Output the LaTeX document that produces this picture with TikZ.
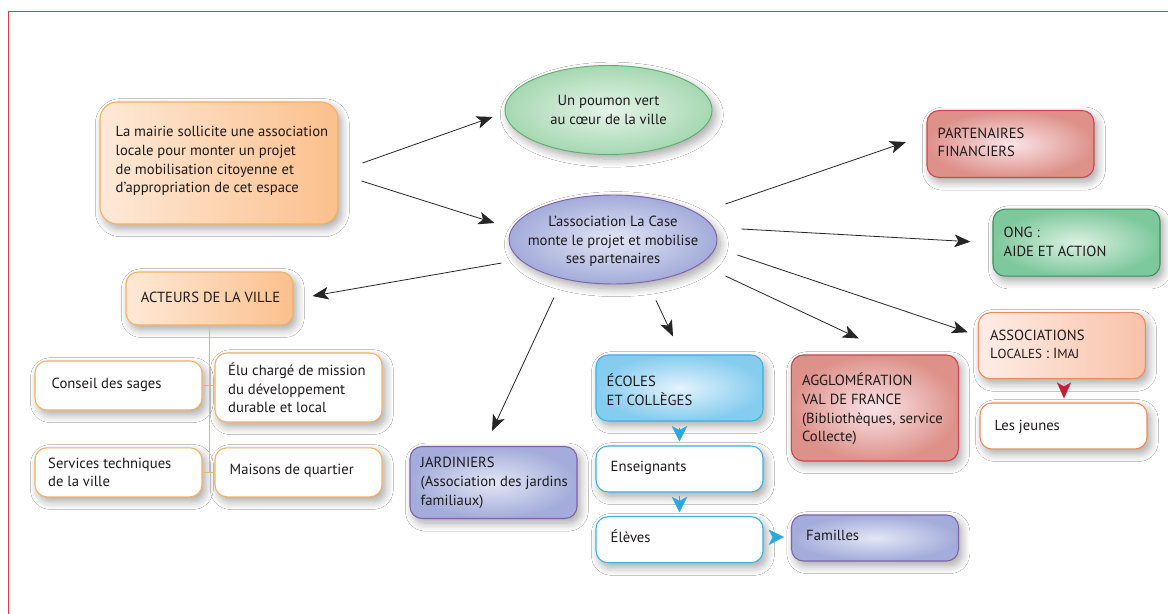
\documentclass[tikz,border=0pt]{standalone}
\usepackage{fontspec}
\setmainfont{PT Sans}
\usetikzlibrary{calc,shapes.geometric,shadows.blur,arrows.meta}
\definecolor{txtc}{HTML}{1E1A1B}
\definecolor{framec}{HTML}{E8314F}
\definecolor{orL}{HTML}{FEE9D7}
\definecolor{orR}{HTML}{FBC08D}
\definecolor{orB}{HTML}{F6B060}
\definecolor{saL}{HTML}{FEEDE6}
\definecolor{saR}{HTML}{F8C2A8}
\definecolor{saB}{HTML}{F08B5A}
\definecolor{grI}{HTML}{E6F4E9}
\definecolor{grO}{HTML}{A6D8B2}
\definecolor{grB}{HTML}{5FAF6D}
\definecolor{dgI}{HTML}{DDF1E3}
\definecolor{dgO}{HTML}{7DC89C}
\definecolor{dgB}{HTML}{3C8F60}
\definecolor{puI}{HTML}{E3E6F5}
\definecolor{puO}{HTML}{A3ACDA}
\definecolor{puB}{HTML}{8062A9}
\definecolor{reI}{HTML}{FBE4E9}
\definecolor{reO}{HTML}{DD9189}
\definecolor{reB}{HTML}{CC4652}
\definecolor{blI}{HTML}{E3F3FC}
\definecolor{blO}{HTML}{86CCEF}
\definecolor{blB}{HTML}{3BB0E6}
\definecolor{blH}{HTML}{29A9E1}
\definecolor{redH}{HTML}{C41E3A}
\begin{document}
\begin{tikzpicture}[x=0.75pt,y=-0.75pt,
  shad/.style={blur shadow={shadow xshift=2.5pt,shadow yshift=-3.5pt,shadow blur radius=6pt,shadow opacity=35,shadow blur steps=10}},
  bx/.style n args={2}{rectangle,rounded corners=9pt,minimum width=#1*0.75pt,minimum height=#2*0.75pt,inner sep=0pt,line width=0.8pt,shad},
  ell/.style n args={2}{ellipse,minimum width=#1*0.75pt,minimum height=#2*0.75pt,inner sep=0pt,line width=0.7pt,shad},
  txt/.style={anchor=west,align=left,inner sep=0pt,text=txtc,font=\fontsize{11}{14}\selectfont},
  ctxt/.style={anchor=center,align=center,inner sep=0pt,text=txtc,font=\fontsize{11}{14}\selectfont},
  arr/.style={draw=black!85,line width=0.6pt,-{Stealth[length=12pt,width=9.5pt,inset=3pt]}},
  bhead/.style={draw=blH,fill=blH,line width=0.1pt,-{Stealth[length=11.5pt,width=11.5pt,inset=3pt]}},
  rhead/.style={draw=redH,fill=redH,line width=0.1pt,-{Stealth[length=12pt,width=10.5pt,inset=3pt]}},
  tree/.style={draw=orB,line width=0.8pt}
]
\useasboundingbox (0,0) rectangle (1168,614);
\fill[white] (0,0) rectangle (1168,614);
% frame
\draw[framec,line width=1.1pt] (8.5,614) -- (8.5,11.7) -- (1168,11.7);

% boxes
\node[bx={238}{122},rounded corners=13pt,left color=orL,right color=orR,draw=orB] (mairie) at (219,163) {};
\node[txt,font=\fontsize{11}{14.1}\selectfont] (mairie-t) at ($(mairie.west)+(16,-2)$) {La mairie sollicite une association\\locale pour monter un projet\\de mobilisation citoyenne et\\d’appropriation de cet espace};

\node[ell={207}{89},inner color=grI,outer color=grO,draw=grB] (poumon) at (608.5,110) {};
\node[ctxt] (poumon-t) at ($(poumon.center)+(0,0)$) {Un poumon vert\\au cœur de la ville};
\node[ell={208}{89},inner color=puI,outer color=puO,draw=puB] (lacase) at (613,239.5) {};
\node[ctxt] (lacase-t) at ($(lacase.center)+(0,2)$) {L’association La Case\\monte le projet et mobilise\\ses partenaires};

\node[bx={167}{67},inner color=reI,outer color=reO,draw=reB] (part) at (1010.5,144) {};
\node[txt] (part-t) at ($(part.west)+(11,-1.5)$) {PARTENAIRES\\FINANCIERS};

\node[bx={167}{67},inner color=dgI,outer color=dgO,draw=dgB] (ong) at (1076.5,242.7) {};
\node[txt] (ong-t) at ($(ong.west)+(11,-1)$) {ONG :\\AIDE ET ACTION};

\node[bx={167}{66},left color=saL,right color=saR,draw=saB] (assoc) at (1061.8,345.7) {};
\node[txt] (assoc-t) at ($(assoc.west)+(12,-1.5)$) {ASSOCIATIONS\\L{\fontsize{9.8}{14}\selectfont OCALES} : I{\fontsize{9.8}{14}\selectfont MAJ}};

\node[bx={167}{46},fill=white,draw=saB] (jeunes) at (1063.5,426) {};
\node[txt] (jeunes-t) at ($(jeunes.west)+(15,0.5)$) {Les jeunes};

\node[bx={167}{53},left color=orL,right color=orR,draw=orB] (acteurs) at (209.5,298.5) {};
\node[ctxt] (acteurs-t) at ($(acteurs.center)+(1,-1.5)$) {ACTEURS DE LA VILLE};

\node[bx={167}{49},fill=white,draw=orB] (conseil) at (118.5,385.5) {};
\node[txt] (conseil-t) at ($(conseil.west)+(17,-0.5)$) {Conseil des sages};
\node[bx={167}{69},fill=white,draw=orB] (elu) at (298.5,387.5) {};
\node[txt] (elu-t) at ($(elu.west)+(13.5,0.5)$) {Élu chargé de mission\\du développement\\durable et local};
\node[bx={167}{49},fill=white,draw=orB] (services) at (118.5,472.3) {};
\node[txt] (services-t) at ($(services.west)+(13.5,0.2)$) {Services techniques\\de la ville};
\node[bx={167}{49},fill=white,draw=orB] (maisons) at (298.5,472.3) {};
\node[txt] (maisons-t) at ($(maisons.west)+(15,-1.3)$) {Maisons de quartier};

\node[bx={167}{72},inner color=puI,outer color=puO,draw=puB] (jard) at (493.5,482.5) {};
\node[txt] (jard-t) at ($(jard.west)+(11,0.5)$) {JARDINIERS\\(Association des jardins\\familiaux)};

\node[bx={167}{66},inner color=blI,outer color=blO,draw=blB] (ecoles) at (679.5,388) {};
\node[txt] (ecoles-t) at ($(ecoles.west)+(11,1.5)$) {ÉCOLES\\ET COLLÈGES};
\node[bx={167}{46},fill=white,draw=blB] (ens) at (679.5,469) {};
\node[txt] (ens-t) at ($(ens.west)+(15,-0.7)$) {Enseignants};
\node[bx={167}{46},fill=white,draw=blB] (eleves) at (679.5,539.7) {};
\node[txt] (eleves-t) at ($(eleves.west)+(15,-3)$) {Élèves};
\node[bx={167}{46},inner color=puI,outer color=puO,draw=puB] (familles) at (875,538) {};
\node[txt] (familles-t) at ($(familles.west)+(15,-3)$) {Familles};

\node[bx={167}{106},inner color=reI,outer color=reO,draw=reB] (aggl) at (874.8,408) {};
\node[txt] (aggl-t) at ($(aggl.west)+(11,1)$) {AGGLOMÉRATION\\VAL DE FRANCE\\(Bibliothèques, service\\Collecte)};

% tree of acteurs
\draw[tree] (acteurs.south) -- (acteurs.south |- services.east);
\draw[tree] (conseil.east) -- (conseil.east -| elu.west);
\draw[tree] (services.east) -- (maisons.west);

% arrows
\draw[arr] ($(mairie.east)+(24,0)$) -- ($(poumon.west)+(-12,7)$);
\draw[arr] ($(mairie.east)+(23,18)$) -- ($(lacase.west)+(-14,-16.5)$);
\draw[arr] ($(lacase.east)+(8,-35.5)$) -- ($(part.west)+(-20.5,-2)$);
\draw[arr] ($(lacase.east)+(24,-10.5)$) -- ($(ong.west)+(-22,-1)$);
\draw[arr] ($(lacase.east)+(20,15.5)$) -- ($(assoc.west)+(-10,-13.5)$);
\draw[arr] ($(lacase.east)+(8,36.5)$) -- ($(aggl.north)+(-16,-16)$);
\draw[arr] ($(lacase.south)+(43,16)$) -- ($(ecoles.north)+(-6.5,-18)$);
\draw[arr] ($(lacase.south)+(-59,13)$) -- ($(jard.north)+(-1.5,-15)$);
\draw[arr] ($(lacase.west)+(-7,23.5)$) -- ($(acteurs.east)+(19,-2.5)$);

% coloured heads
\draw[bhead] ($(ecoles.south)+(0,6)$) -- ($(ens.north)+(0,-4)$);
\draw[bhead] ($(ens.south)+(0,3)$) -- ($(eleves.north)+(0,-4)$);
\draw[bhead] ($(eleves.east)+(8,-2.5)$) -- ($(familles.west)+(-7,-1)$);
\draw[rhead] ($(assoc.south)+(2.2,4)$) -- ($(jeunes.north)+(0.5,-4)$);
\end{tikzpicture}
\end{document}
